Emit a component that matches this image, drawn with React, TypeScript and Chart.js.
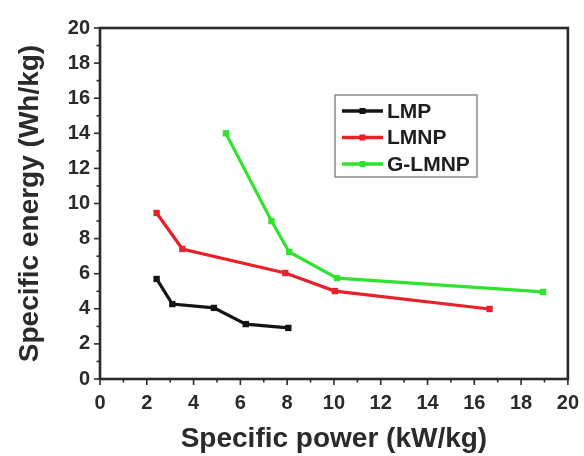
import React, { useEffect, useRef } from "react";
import { Chart, registerables } from "chart.js";

Chart.register(...registerables);

const seriesNames = ["LMP", "LMNP", "G-LMNP"];
const seriesColors = ["#141414", "#e8202a", "#2fe32f"];

const lmpPower = [2.42, 3.09, 4.87, 6.23, 8.05];
const lmpEnergy = [5.7, 4.27, 4.05, 3.13, 2.91];

const lmnpPower = [2.42, 3.52, 7.92, 10.04, 16.65];
const lmnpEnergy = [9.46, 7.41, 6.04, 5.01, 3.99];

const glmnpPower = [5.38, 7.33, 8.09, 10.13, 18.94];
const glmnpEnergy = [14.0, 9.0, 7.24, 5.75, 4.96];

const xMin = 0;
const xMax = 20;
const yMin = 0;
const yMax = 20;
const majorStep = 2;
const minorStep = 1;

const xTitle = "Specific power (kW/kg)";
const yTitle = "Specific energy (Wh/kg)";

const FONT = "'Liberation Sans', Arial, sans-serif";

const toPoints = (xs: number[], ys: number[]) => xs.map((x, i) => ({ x, y: ys[i] }));

const framePlugin = {
  id: "frameTicks",
  afterDraw(chart: any) {
    const { ctx, chartArea } = chart;
    const xs = chart.scales.x;
    const ys = chart.scales.y;
    ctx.save();
    ctx.strokeStyle = "#2a2a2a";
    ctx.lineWidth = 1.6;
    for (let v = xMin; v <= xMax + 1e-9; v += minorStep) {
      const px = xs.getPixelForValue(v);
      const len = Math.round(v) % majorStep === 0 ? 6 : 3.5;
      ctx.beginPath();
      ctx.moveTo(px, chartArea.bottom);
      ctx.lineTo(px, chartArea.bottom + len);
      ctx.stroke();
    }
    for (let v = yMin; v <= yMax + 1e-9; v += minorStep) {
      const py = ys.getPixelForValue(v);
      const len = Math.round(v) % majorStep === 0 ? 6 : 3.5;
      ctx.beginPath();
      ctx.moveTo(chartArea.left, py);
      ctx.lineTo(chartArea.left - len, py);
      ctx.stroke();
    }
    ctx.lineWidth = 2.6;
    ctx.strokeStyle = "#2a2a2a";
    ctx.strokeRect(
      chartArea.left,
      chartArea.top,
      chartArea.right - chartArea.left,
      chartArea.bottom - chartArea.top
    );
    ctx.restore();
  },
};

const legendPlugin = {
  id: "insideLegend",
  afterDraw(chart: any) {
    const { ctx } = chart;
    const ds = chart.data.datasets;
    const bx = 335;
    const by = 95;
    const bw = 142;
    const bh = 82;
    ctx.save();
    ctx.fillStyle = "#ffffff";
    ctx.fillRect(bx, by, bw, bh);
    ctx.strokeStyle = "#8a8a8a";
    ctx.lineWidth = 1.5;
    ctx.strokeRect(bx, by, bw, bh);
    ctx.font = `bold 21px ${FONT}`;
    ctx.textBaseline = "middle";
    ctx.textAlign = "left";
    ds.forEach((d: any, i: number) => {
      const cy = by + 16 + i * 26.5;
      ctx.strokeStyle = d.borderColor;
      ctx.lineWidth = 3.5;
      ctx.beginPath();
      ctx.moveTo(bx + 7, cy);
      ctx.lineTo(bx + 48, cy);
      ctx.stroke();
      ctx.fillStyle = d.borderColor;
      ctx.fillRect(bx + 24.5, cy - 3, 6, 6);
      ctx.fillStyle = "#1e1e1e";
      ctx.fillText(d.label, bx + 52, cy + 1);
    });
    ctx.restore();
  },
};

export default function App() {
  const canvasRef = useRef<HTMLCanvasElement | null>(null);

  useEffect(() => {
    document.body.style.margin = "0";
    const canvas = canvasRef.current;
    if (!canvas) return;
    const seriesData = [
      toPoints(lmpPower, lmpEnergy),
      toPoints(lmnpPower, lmnpEnergy),
      toPoints(glmnpPower, glmnpEnergy),
    ];
    const chart = new Chart(canvas, {
      type: "line",
      data: {
        datasets: seriesNames.map((name, i) => ({
          label: name,
          data: seriesData[i],
          borderColor: seriesColors[i],
          backgroundColor: seriesColors[i],
          borderWidth: 3.2,
          pointStyle: "rect",
          pointRadius: 4.5,
          pointBorderWidth: 0,
          tension: 0,
          fill: false,
        })),
      },
      options: {
        animation: false,
        responsive: true,
        maintainAspectRatio: false,
        layout: { padding: { top: 28, right: 12, left: 0, bottom: 0 } },
        plugins: {
          legend: { display: false },
          tooltip: { enabled: false },
          title: { display: false },
        },
        scales: {
          x: {
            type: "linear",
            min: xMin,
            max: xMax,
            afterFit: (s: any) => {
              s.height = 77;
            },
            ticks: {
              stepSize: majorStep,
              color: "#2a2a2a",
              padding: 5,
              maxRotation: 0,
              font: { family: FONT, size: 20, weight: "bold" },
            },
            grid: {
              display: true,
              drawOnChartArea: false,
              drawTicks: true,
              tickLength: 7,
              tickColor: "rgba(0,0,0,0)",
            },
            border: { display: false },
            title: {
              display: true,
              text: xTitle,
              color: "#2a2a2a",
              padding: { top: 0, bottom: 0 },
              font: { family: FONT, size: 28, weight: "bold" },
            },
          },
          y: {
            type: "linear",
            min: yMin,
            max: yMax,
            afterFit: (s: any) => {
              s.width = 100;
            },
            ticks: {
              stepSize: majorStep,
              color: "#2a2a2a",
              padding: 3,
              font: { family: FONT, size: 20, weight: "bold" },
            },
            grid: {
              display: true,
              drawOnChartArea: false,
              drawTicks: true,
              tickLength: 7,
              tickColor: "rgba(0,0,0,0)",
            },
            border: { display: false },
            title: {
              display: true,
              text: yTitle,
              color: "#2a2a2a",
              padding: { top: 13, bottom: 0 },
              font: { family: FONT, size: 28, weight: "bold" },
            },
          },
        },
      },
      plugins: [framePlugin, legendPlugin],
    });
    return () => chart.destroy();
  }, []);

  return (
    <div style={{ position: "relative", width: 584, height: 456, background: "#fff" }}>
      <canvas ref={canvasRef} />
    </div>
  );
}
